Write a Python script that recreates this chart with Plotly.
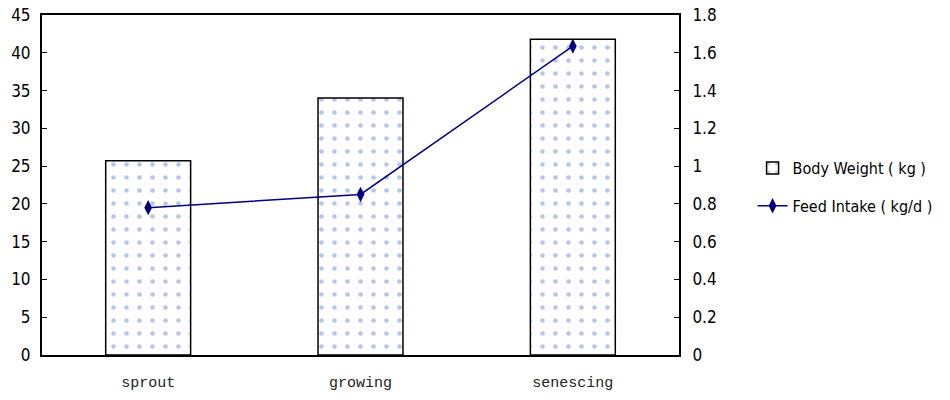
import plotly.graph_objects as go

categories = ["sprout", "growing", "senescing"]
body_weight = [25.7, 34.0, 41.8]
feed_intake = [0.78, 0.85, 1.635]
left_ticks = [0, 5, 10, 15, 20, 25, 30, 35, 40, 45]
right_ticks = [0, 0.2, 0.4, 0.6, 0.8, 1, 1.2, 1.4, 1.6, 1.8]

tick_font = dict(family="Liberation Sans Narrow, DejaVu Sans Condensed, Liberation Sans", size=17, color="black")

fig = go.Figure()
fig.add_trace(go.Bar(
    x=categories, y=body_weight, name="Body Weight ( kg )",
    width=0.4, legendgroup="a",
    marker=dict(color="white", line=dict(color="black", width=1.5),
                pattern=dict(shape=".", fgcolor="#6a8cd6", bgcolor="white", size=13, solidity=0.1)),
))
fig.add_trace(go.Scatter(
    x=categories, y=feed_intake, name="Feed Intake ( kg/d )", yaxis="y2",
    mode="lines+markers", legendgroup="b",
    line=dict(color="#000080", width=1.5),
    marker=dict(symbol="diamond-tall", size=11, color="#000080"),
))

fig.update_layout(
    width=950, height=400,
    margin=dict(l=42, r=267, t=15, b=45),
    plot_bgcolor="white", paper_bgcolor="white",
    showlegend=True,
    legend=dict(x=1.1155, y=0.494, xanchor="left", yanchor="middle",
                font=dict(family="Liberation Sans Narrow, DejaVu Sans Condensed, Liberation Sans", size=16, color="black"),
                tracegroupgap=14, bgcolor="rgba(0,0,0,0)", borderwidth=0),
    xaxis=dict(showline=True, linecolor="black", linewidth=2, mirror=True,
               ticks="", showgrid=False, automargin=False, ticklabelstandoff=12,
               tickfont=dict(family="Liberation Mono, Noto Sans CJK SC", size=15, color="#222")),
    yaxis=dict(range=[0, 45], tickvals=left_ticks, showgrid=False, zeroline=False,
               showline=True, linecolor="black", linewidth=2, automargin=False,
               ticklabelstandoff=6,
               ticks="inside", ticklen=5, tickcolor="black", tickfont=tick_font),
    yaxis2=dict(range=[0, 1.8], tickvals=right_ticks, overlaying="y", side="right",
                showgrid=False, zeroline=False, automargin=False,
                ticklabelstandoff=8,
                showline=True, linecolor="black", linewidth=2,
                ticks="inside", ticklen=5, tickcolor="black", tickfont=tick_font),
)

fig.write_html(
    "out.html",
    config={"displayModeBar": False, "responsive": False},
    post_script="document.body.style.margin='0';document.body.style.overflow='hidden';",
)
